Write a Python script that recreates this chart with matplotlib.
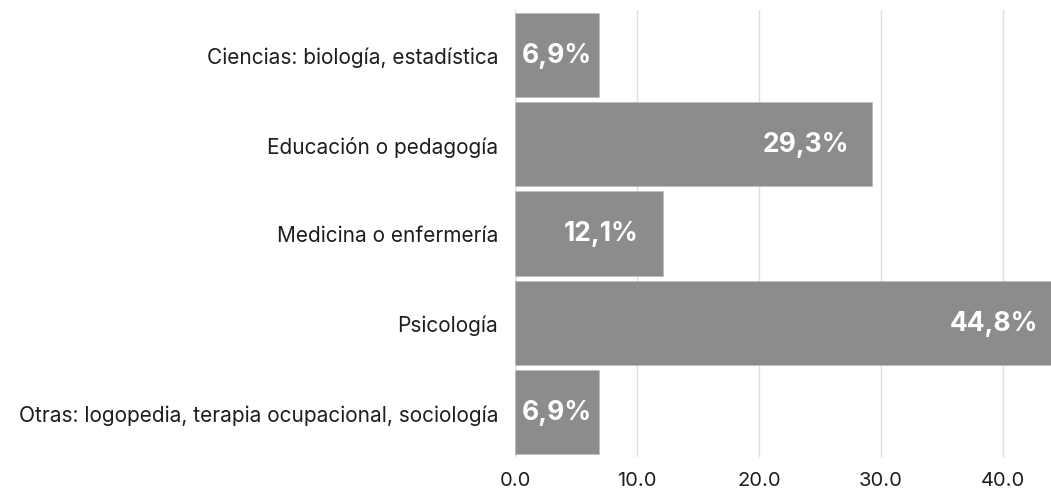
import matplotlib
matplotlib.use("Agg")
import matplotlib.pyplot as plt

# data
categories = [
    "Ciencias: biología, estadística",
    "Educación o pedagogía",
    "Medicina o enfermería",
    "Psicología",
    "Otras: logopedia, terapia ocupacional, sociología",
]
values = [6.9, 29.3, 12.1, 44.8, 6.9]
value_labels = ["6,9%", "29,3%", "12,1%", "44,8%", "6,9%"]
xticks = [0, 10, 20, 30, 40]

plt.rcParams["font.family"] = ["Inter", "DejaVu Sans"]

fig = plt.figure(figsize=(10.51, 4.89), dpi=100)
# axes run a little past the right edge, like the cropped original
ax = fig.add_axes([515 / 1051, 31 / 489, 546.6 / 1051, 447 / 489])

ypos = list(range(len(categories)))
ax.barh(ypos, values, height=0.94, color="#8c8c8c", edgecolor="#bdbdbd",
        linewidth=0.6, zorder=2)

ax.set_xlim(0, 44.8)
ax.set_ylim(len(categories) - 0.5, -0.5)
ax.set_yticks(ypos)
ax.set_yticklabels(categories, fontsize=15, color="#1e1e1e")
ax.set_xticks(xticks)
ax.set_xticklabels([f"{t:.1f}" for t in xticks], fontsize=14.5, color="#1e1e1e")
ax.tick_params(axis="both", length=0)
ax.tick_params(axis="y", pad=12)
ax.tick_params(axis="x", pad=10)
ax.grid(axis="x", color="#dddddd", linewidth=1, zorder=0)
for s in ax.spines.values():
    s.set_visible(False)

# value labels: right-aligned inside the bar, but never past the bar start
texts = []
for y, v, lab in zip(ypos, values, value_labels):
    t = ax.annotate(lab, (v, y), xytext=(-17, 0), textcoords="offset points",
                    ha="right", va="center", color="white", fontsize=19,
                    fontweight="bold", zorder=3)
    texts.append(t)

fig.canvas.draw()
renderer = fig.canvas.get_renderer()
x0_px = ax.transData.transform((0, 0))[0]
for t in texts:
    bb = t.get_window_extent(renderer)
    min_left = x0_px + 7
    if bb.x0 < min_left:
        shift = (min_left - bb.x0) * 72 / fig.dpi
        ox, oy = t.xyann
        t.xyann = (ox + shift, oy)

fig.savefig("out.png", dpi=100)
